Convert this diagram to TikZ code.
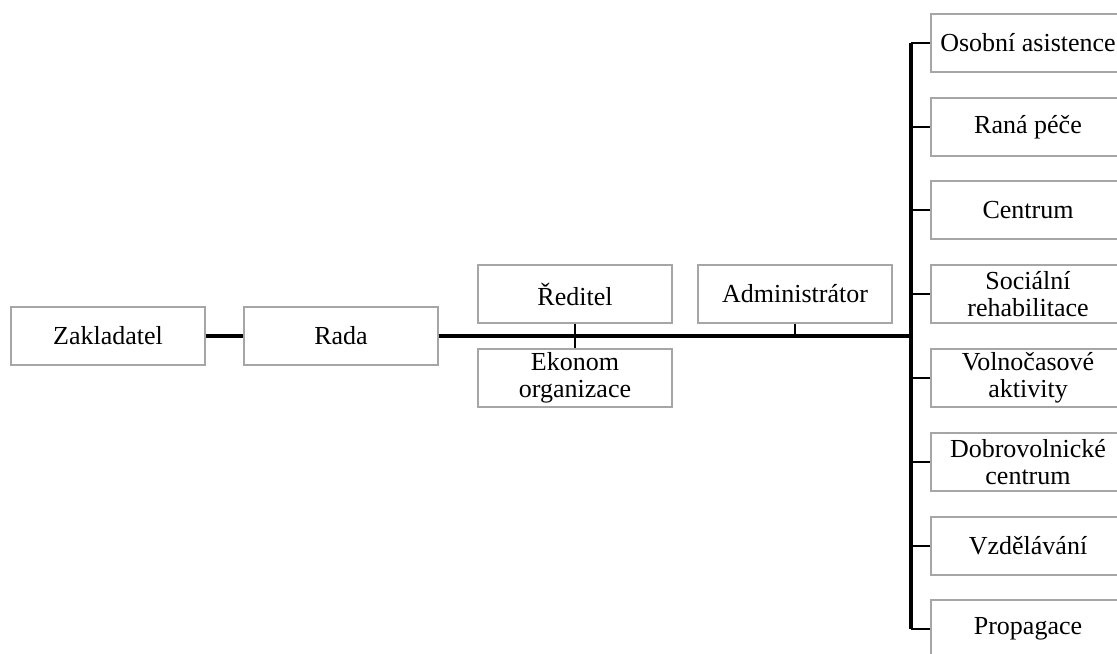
\documentclass[tikz,border=0pt]{standalone}
\usepackage{fontspec}
\setmainfont{Liberation Serif}
\usepackage{tikz}
\usetikzlibrary{positioning}
\tikzset{unit/.style = {draw = gray!70, line width = 0.6pt, fill = white, align = center,
    minimum width = 97pt, minimum height = 29pt, inner sep = 0pt,
    font = \fontsize{13}{13.5}\selectfont}}
\tikzset{mainline/.style = {line width = 1.6pt}}
\tikzset{link/.style = {line width = 1.2pt}}

\begin{document}
\begin{tikzpicture}[x = 0.5pt, y = -0.5pt]
    \clip (0, 0) rectangle (1117, 653);

    \node [unit] (zakladatel) at (108, 336) {Zakladatel};
    \node [unit] (rada) at (341, 336) {Rada};
    \node [unit] (reditel) at (575, 294) {Ředitel};
    \node [unit] (ekonom) at (575, 378) {Ekonom\\organizace};
    \node [unit] (admin) at (795, 294) {Administrátor};
    \coordinate (hub) at (911, 336);

    \node [unit] (asistence) at (1028, 43) {Osobní asistence};
    \node [unit] (pece) at (1028, 127) {Raná péče};
    \node [unit] (centrum) at (1028, 210) {Centrum};
    \node [unit] (rehab) at (1028, 294) {Sociální\\rehabilitace};
    \node [unit] (volno) at (1028, 378) {Volnočasové\\aktivity};
    \node [unit] (dobro) at (1028, 462) {Dobrovolnické\\centrum};
    \node [unit] (vzdel) at (1028, 546) {Vzdělávání};
    \node [unit] (propag) at (1028, 629) {Propagace};

    \draw [mainline] (zakladatel) -- (rada);
    \draw [mainline] (rada) -- (hub);
    \draw [link] (reditel) -- (ekonom);
    \draw [link] (admin) -- (admin.south |- hub);
    \draw [mainline] (hub |- asistence.west) -- (hub |- propag.west);

    \draw [link] (hub |- asistence.west) -- (asistence);
    \draw [link] (hub |- pece.west) -- (pece);
    \draw [link] (hub |- centrum.west) -- (centrum);
    \draw [link] (hub |- rehab.west) -- (rehab);
    \draw [link] (hub |- volno.west) -- (volno);
    \draw [link] (hub |- dobro.west) -- (dobro);
    \draw [link] (hub |- vzdel.west) -- (vzdel);
    \draw [link] (hub |- propag.west) -- (propag);
  \end{tikzpicture}
\end{document}
